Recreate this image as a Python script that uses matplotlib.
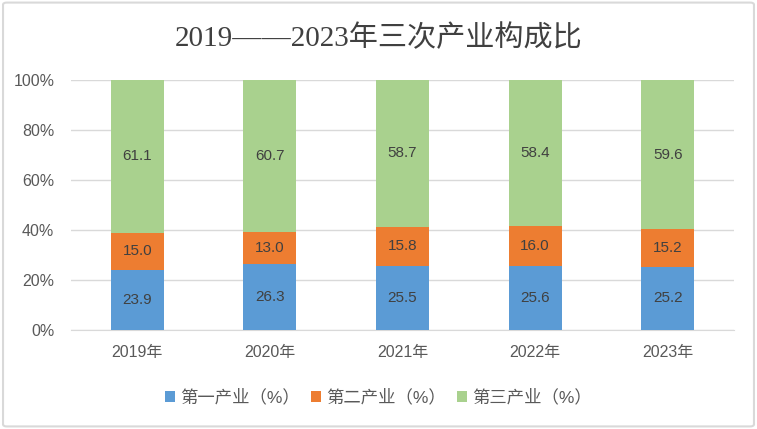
import matplotlib.pyplot as plt
import numpy as np
from matplotlib.patches import FancyBboxPatch

plt.rcParams['font.family'] = ['Liberation Sans', 'Noto Sans CJK SC']

years = ['2019年', '2020年', '2021年', '2022年', '2023年']
primary = [23.9, 26.3, 25.5, 25.6, 25.2]
secondary = [15.0, 13.0, 15.8, 16.0, 15.2]
tertiary = [61.1, 60.7, 58.7, 58.4, 59.6]
series_names = ['第一产业（%）', '第二产业（%）', '第三产业（%）']
colors = ['#5B9BD5', '#ED7D31', '#A9D18E']

fig = plt.figure(figsize=(7.57, 4.29), dpi=100)
ax = fig.add_axes([0.0938, 0.2308, 0.8758, 0.5827])

x = np.arange(len(years))
bottom = np.zeros(len(years))
handles = []
for vals, name, c in zip([primary, secondary, tertiary], series_names, colors):
    vals = np.array(vals)
    bars = ax.bar(x, vals, width=0.4, bottom=bottom, color=c, label=name, zorder=3)
    handles.append(bars)
    for xi, b, v in zip(x, bottom, vals):
        ax.text(xi, b + v / 2, f'{v:.1f}', ha='center', va='center',
                fontsize=11, color='#404040', zorder=4)
    bottom += vals

ax.set_xlim(-0.5, len(years) - 0.5)
ax.set_ylim(0, 100)
ax.set_yticks(range(0, 101, 20))
ax.set_yticklabels([f'{v}%' for v in range(0, 101, 20)])
ax.set_xticks(x)
ax.set_xticklabels(years)
ax.tick_params(axis='both', length=0, labelsize=11.5, colors='#595959')
ax.tick_params(axis='x', pad=11)
ax.tick_params(axis='y', pad=12)
ax.grid(axis='y', color='#D9D9D9', linewidth=1, zorder=0)
for s in ['top', 'right', 'left']:
    ax.spines[s].set_visible(False)
ax.spines['bottom'].set_color('#D9D9D9')

fig.text(0.5, 0.91, '2019——2023年三次产业构成比', ha='center', va='center',
         fontsize=21, color='#404040', family=['Liberation Serif', 'Noto Sans CJK SC'])

fig.legend(handles=handles, loc='center', bbox_to_anchor=(0.5, 0.075), ncol=3,
           frameon=False, fontsize=12.5, labelcolor='#595959', handlelength=0.6,
           handleheight=0.6, handletextpad=0.3, columnspacing=0.6)

fig.patches.append(FancyBboxPatch((0.004, 0.006), 0.992, 0.988,
                                  boxstyle='round,pad=0,rounding_size=0.005',
                                  transform=fig.transFigure, fill=False,
                                  edgecolor='#D9D9D9', linewidth=1.5))

fig.savefig('out.png', dpi=100)
